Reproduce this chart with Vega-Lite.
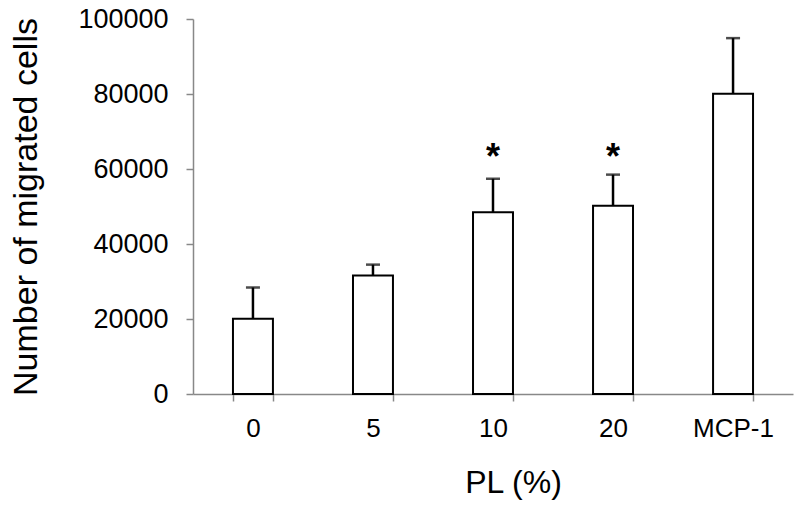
{
  "$schema": "https://vega.github.io/schema/vega-lite/v6.json",
  "width": 600,
  "height": 375,
  "autosize": {"type": "none"},
  "padding": {"left": 193, "top": 19, "right": 7, "bottom": 113},
  "background": "white",
  "config": {"view": {"stroke": null}, "font": "Liberation Sans"},
  "data": {
    "values": [
      {"group": "0", "value": 20100, "upper": 28400, "star": ""},
      {"group": "5", "value": 31600, "upper": 34500, "star": ""},
      {"group": "10", "value": 48500, "upper": 57400, "star": "*"},
      {"group": "20", "value": 50200, "upper": 58500, "star": "*"},
      {"group": "MCP-1", "value": 80100, "upper": 94900, "star": ""}
    ]
  },
  "encoding": {
    "x": {
      "field": "group",
      "type": "nominal",
      "sort": null,
      "scale": {"paddingInner": 0.667, "paddingOuter": 0.333},
      "axis": {
        "title": "PL (%)",
        "titleFontSize": 32,
        "titleFontWeight": "normal",
        "titleColor": "black",
        "titleX": 320,
        "titlePadding": 26,
        "labelAngle": 0,
        "labelFontSize": 26,
        "labelColor": "black",
        "labelPadding": 14,
        "tickBand": "extent",
        "tickSize": 7,
        "tickColor": "#888888",
        "tickWidth": 1.5,
        "domainColor": "#888888",
        "domainWidth": 1.5
      }
    }
  },
  "layer": [
    {
      "mark": {"type": "rule", "stroke": "black", "strokeWidth": 2.5},
      "encoding": {
        "y": {"field": "value", "type": "quantitative"},
        "y2": {"field": "upper"}
      }
    },
    {
      "mark": {"type": "tick", "color": "black", "thickness": 2.5, "size": 14, "orient": "horizontal"},
      "encoding": {
        "y": {"field": "upper", "type": "quantitative"}
      }
    },
    {
      "mark": {"type": "bar", "fill": "white", "stroke": "black", "strokeWidth": 2},
      "encoding": {
        "y": {
          "field": "value",
          "type": "quantitative",
          "scale": {"domain": [0, 100000], "nice": false},
          "axis": {
            "title": "Number of migrated cells",
            "titleFontSize": 34,
            "titleFontWeight": "normal",
            "titleColor": "black",
            "titlePadding": 34,
            "values": [0, 20000, 40000, 60000, 80000, 100000],
            "format": "d",
            "labelFontSize": 27,
            "labelColor": "black",
            "labelPadding": 18,
            "tickSize": 7,
            "tickColor": "#888888",
            "tickWidth": 1.5,
            "domainColor": "#888888",
            "domainWidth": 1.5,
            "grid": false
          }
        }
      }
    },
    {
      "mark": {"type": "text", "fontSize": 36, "fontWeight": "bold", "baseline": "alphabetic", "color": "black"},
      "encoding": {
        "y": {"datum": 60000, "type": "quantitative"},
        "text": {"field": "star"}
      }
    }
  ]
}
